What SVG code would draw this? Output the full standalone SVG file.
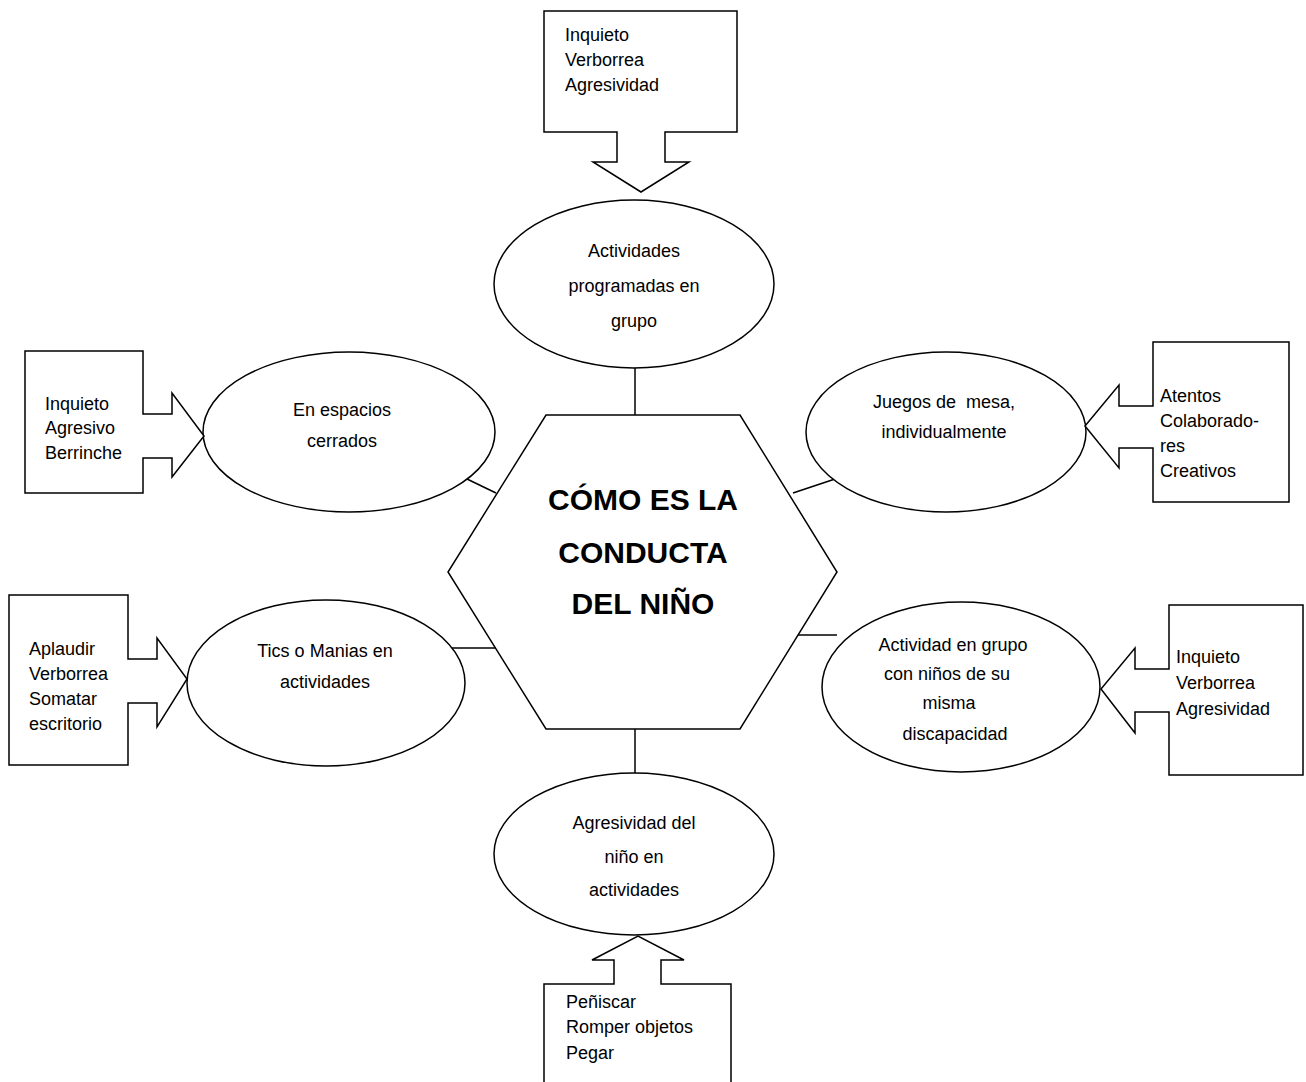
<svg xmlns="http://www.w3.org/2000/svg" width="1306" height="1082" viewBox="0 0 1306 1082">
  <style>
    .shape { fill: #ffffff; stroke: #000000; stroke-width: 1.5; }
    .link { fill: none; stroke: #000000; stroke-width: 1.5; }
    .lbl { font-family: "Liberation Sans", Arial, sans-serif; font-size: 18px; fill: #000000; }
    .mid { text-anchor: middle; }
    .title { font-family: "Liberation Sans", Arial, sans-serif; font-size: 30px; font-weight: bold; fill: #000000; text-anchor: middle; }
  </style>
  <rect width="1306" height="1082" fill="#ffffff"/>

  <!-- connectors between the hexagon and the ellipses -->
  <g id="connectors">
    <line class="link" x1="635" y1="368" x2="635" y2="415"/>
    <line class="link" x1="635" y1="729" x2="635" y2="773"/>
    <line class="link" x1="467" y1="479" x2="496" y2="493"/>
    <line class="link" x1="793" y1="493" x2="838" y2="478"/>
    <line class="link" x1="451" y1="648" x2="496" y2="648"/>
    <line class="link" x1="793" y1="635" x2="837" y2="635"/>
  </g>

  <!-- central hexagon -->
  <g id="center">
    <polygon class="shape" points="546,415 740,415 837,572 740,729 546,729 448,572"/>
    <text class="title" x="643" y="510">CÓMO ES LA</text>
    <text class="title" x="643" y="563">CONDUCTA</text>
    <text class="title" x="643" y="614">DEL NIÑO</text>
  </g>

  <!-- ellipses -->
  <g id="node-top">
    <ellipse class="shape" cx="634" cy="284" rx="140" ry="84"/>
    <text class="lbl mid" x="634" y="257">Actividades</text>
    <text class="lbl mid" x="634" y="292">programadas en</text>
    <text class="lbl mid" x="634" y="327">grupo</text>
  </g>
  <g id="node-left-top">
    <ellipse class="shape" cx="349" cy="432" rx="146" ry="80"/>
    <text class="lbl mid" x="342" y="416">En espacios</text>
    <text class="lbl mid" x="342" y="447">cerrados</text>
  </g>
  <g id="node-right-top">
    <ellipse class="shape" cx="946" cy="432" rx="140" ry="80"/>
    <text class="lbl mid" x="944" y="408" xml:space="preserve">Juegos de  mesa,</text>
    <text class="lbl mid" x="944" y="438">individualmente</text>
  </g>
  <g id="node-left-bottom">
    <ellipse class="shape" cx="326" cy="683" rx="139" ry="83"/>
    <text class="lbl mid" x="325" y="657">Tics o Manias en</text>
    <text class="lbl mid" x="325" y="688">actividades</text>
  </g>
  <g id="node-right-bottom">
    <ellipse class="shape" cx="961" cy="687" rx="139" ry="85"/>
    <text class="lbl mid" x="953" y="651">Actividad en grupo</text>
    <text class="lbl mid" x="947" y="680">con niños de su</text>
    <text class="lbl mid" x="949" y="709">misma</text>
    <text class="lbl mid" x="955" y="740">discapacidad</text>
  </g>
  <g id="node-bottom">
    <ellipse class="shape" cx="634" cy="854" rx="140" ry="81"/>
    <text class="lbl mid" x="634" y="829">Agresividad del</text>
    <text class="lbl mid" x="634" y="863">niño en</text>
    <text class="lbl mid" x="634" y="896">actividades</text>
  </g>

  <!-- arrow callouts -->
  <g id="callout-top">
    <polygon class="shape" points="544,11 737,11 737,132 665,132 665,162 689,162 641,192 593,162 617,162 617,132 544,132"/>
    <text class="lbl" x="565" y="41">Inquieto</text>
    <text class="lbl" x="565" y="66">Verborrea</text>
    <text class="lbl" x="565" y="91">Agresividad</text>
  </g>
  <g id="callout-left-top">
    <polygon class="shape" points="25,351 143,351 143,414 172,414 172,393 204,436 172,477 172,458 143,458 143,493 25,493"/>
    <text class="lbl" x="45" y="410">Inquieto</text>
    <text class="lbl" x="45" y="434">Agresivo</text>
    <text class="lbl" x="45" y="459">Berrinche</text>
  </g>
  <g id="callout-right-top">
    <polygon class="shape" points="1153,342 1289,342 1289,502 1153,502 1153,448 1119,448 1119,468 1085,426 1119,385 1119,406 1153,406"/>
    <text class="lbl" x="1160" y="402">Atentos</text>
    <text class="lbl" x="1160" y="427">Colaborado-</text>
    <text class="lbl" x="1160" y="452">res</text>
    <text class="lbl" x="1160" y="477">Creativos</text>
  </g>
  <g id="callout-left-bottom">
    <polygon class="shape" points="9,595 128,595 128,659 157,659 157,638 187,679 157,727 157,703 128,703 128,765 9,765"/>
    <text class="lbl" x="29" y="655">Aplaudir</text>
    <text class="lbl" x="29" y="680">Verborrea</text>
    <text class="lbl" x="29" y="705">Somatar</text>
    <text class="lbl" x="29" y="730">escritorio</text>
  </g>
  <g id="callout-right-bottom">
    <polygon class="shape" points="1169,605 1303,605 1303,775 1169,775 1169,712 1135,712 1135,733 1101,689 1135,648 1135,669 1169,669"/>
    <text class="lbl" x="1176" y="663">Inquieto</text>
    <text class="lbl" x="1176" y="689">Verborrea</text>
    <text class="lbl" x="1176" y="715">Agresividad</text>
  </g>
  <g id="callout-bottom">
    <polygon class="shape" points="544,1090 544,984 614,984 614,960 592,960 638,936 684,960 661,960 661,984 731,984 731,1090"/>
    <text class="lbl" x="566" y="1008">Peñiscar</text>
    <text class="lbl" x="566" y="1033">Romper objetos</text>
    <text class="lbl" x="566" y="1059">Pegar</text>
  </g>
</svg>
